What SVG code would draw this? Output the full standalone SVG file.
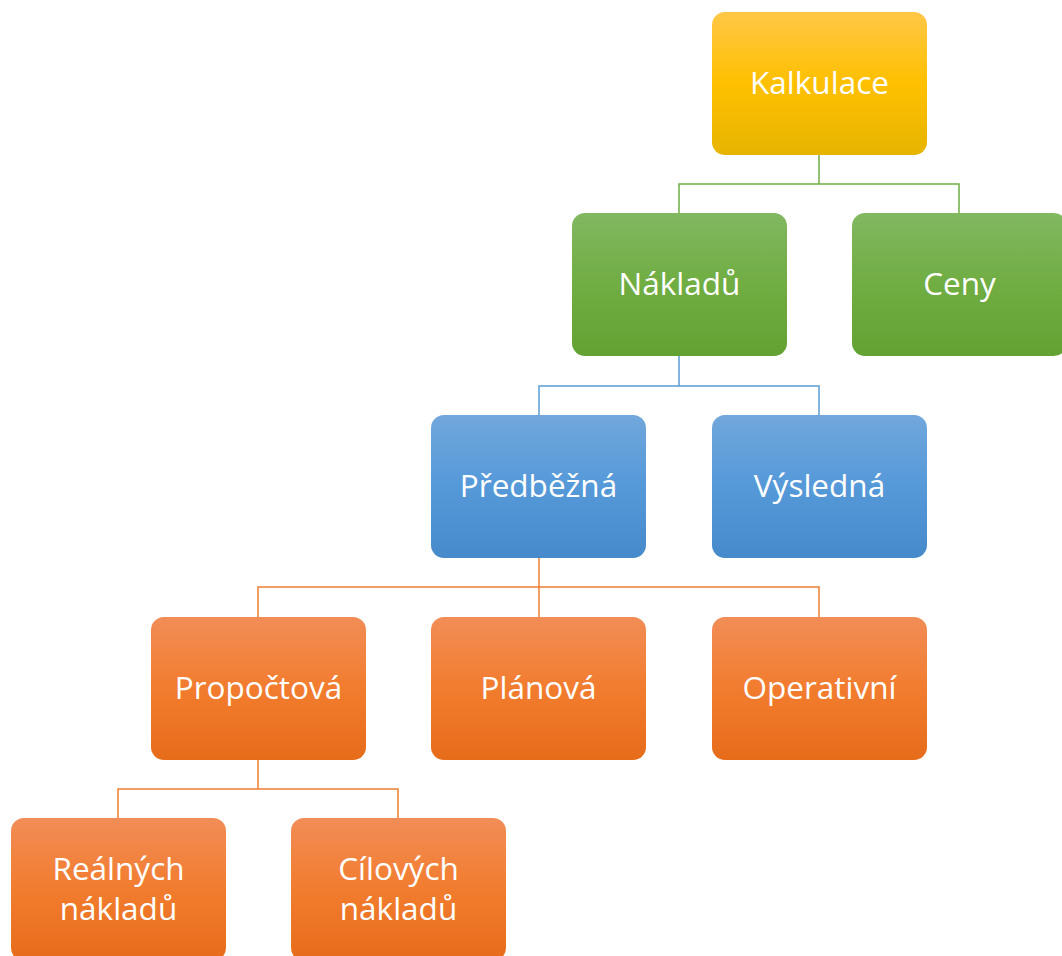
<svg xmlns="http://www.w3.org/2000/svg" width="1062" height="956" viewBox="0 0 1062 956">
<style>
.box{stroke:none}
.lbl{font-family:"Open Sans","Liberation Sans",Arial,sans-serif;font-size:31.5px;fill:#fff;text-anchor:middle}
.con{fill:none;stroke-width:1.5}
.cg{stroke:#70AD47}.cb{stroke:#5B9BD5}.co{stroke:#ED7D31}
</style>
<defs>
<linearGradient id="gY" x1="0" y1="0" x2="0" y2="1"><stop offset="0" stop-color="#FFC746"/><stop offset="0.5" stop-color="#FFC000"/><stop offset="1" stop-color="#E6B400"/></linearGradient>
<linearGradient id="gG" x1="0" y1="0" x2="0" y2="1"><stop offset="0" stop-color="#81B862"/><stop offset="0.5" stop-color="#70AD42"/><stop offset="1" stop-color="#62A232"/></linearGradient>
<linearGradient id="gB" x1="0" y1="0" x2="0" y2="1"><stop offset="0" stop-color="#71A7DC"/><stop offset="0.5" stop-color="#5599D9"/><stop offset="1" stop-color="#468ACB"/></linearGradient>
<linearGradient id="gO" x1="0" y1="0" x2="0" y2="1"><stop offset="0" stop-color="#F18D57"/><stop offset="0.5" stop-color="#F27C2E"/><stop offset="1" stop-color="#E66C1A"/></linearGradient>
</defs>
<g id="connectors">
<path class="con cg" d="M819 155V184M679 213V184H959V213"/>
<path class="con cb" d="M679 356V386M539 415V386H819V415"/>
<path class="con co" d="M539 558V587M258 617V587H819V617M539 587V617"/>
<path class="con co" d="M258 760V789M118 818V789H398V818"/>
</g>
<g id="kalkulace"><rect class="box" x="712" y="12" width="215" height="143" rx="13" fill="url(#gY)"/><text class="lbl" x="819.5" y="93.5">Kalkulace</text></g>
<g id="nakladu"><rect class="box" x="572" y="213" width="215" height="143" rx="13" fill="url(#gG)"/><text class="lbl" x="679.5" y="295">Nákladů</text></g>
<g id="ceny"><rect class="box" x="852" y="213" width="215" height="143" rx="13" fill="url(#gG)"/><text class="lbl" x="959.5" y="295">Ceny</text></g>
<g id="predbezna"><rect class="box" x="431" y="415" width="215" height="143" rx="13" fill="url(#gB)"/><text class="lbl" x="538.5" y="497">Předběžná</text></g>
<g id="vysledna"><rect class="box" x="712" y="415" width="215" height="143" rx="13" fill="url(#gB)"/><text class="lbl" x="819.5" y="497">Výsledná</text></g>
<g id="propoctova"><rect class="box" x="151" y="617" width="215" height="143" rx="13" fill="url(#gO)"/><text class="lbl" x="258.5" y="699">Propočtová</text></g>
<g id="planova"><rect class="box" x="431" y="617" width="215" height="143" rx="13" fill="url(#gO)"/><text class="lbl" x="538.5" y="699">Plánová</text></g>
<g id="operativni"><rect class="box" x="712" y="617" width="215" height="143" rx="13" fill="url(#gO)"/><text class="lbl" x="819.5" y="699">Operativní</text></g>
<g id="realnych"><rect class="box" x="11" y="818" width="215" height="143" rx="13" fill="url(#gO)"/><text class="lbl" x="118.5" y="880">Reálných</text><text class="lbl" x="118.5" y="920">nákladů</text></g>
<g id="cilovych"><rect class="box" x="291" y="818" width="215" height="143" rx="13" fill="url(#gO)"/><text class="lbl" x="398.5" y="880">Cílových</text><text class="lbl" x="398.5" y="920">nákladů</text></g>
</svg>
